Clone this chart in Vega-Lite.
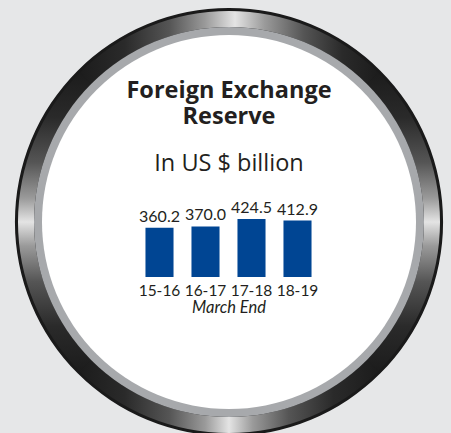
{
  "$schema": "https://vega.github.io/schema/vega-lite/v6.json",
  "width": 451,
  "height": 433,
  "autosize": {"type": "none"},
  "padding": {"left": 3.5, "top": 5.5, "right": 0, "bottom": 0},
  "background": "#e6e7e8",
  "view": {"stroke": null},
  "title": {
    "text": ["Foreign Exchange", "Reserve"],
    "subtitle": "In US $ billion",
    "anchor": "middle",
    "frame": "group",
    "offset": -170,
    "font": "Open Sans",
    "fontSize": 23.5,
    "fontWeight": "bold",
    "color": "#231f20",
    "lineHeight": 26.5,
    "subtitleFont": "Open Sans",
    "subtitleFontSize": 23.5,
    "subtitleColor": "#231f20",
    "subtitlePadding": 23.5
  },
  "layer": [
    {
      "data": {"values": [{}]},
      "mark": {"type": "arc", "radius": 214, "radius2": 0, "theta": 0, "theta2": 6.2832, "fill": "#1a1a1a"},
      "encoding": {}
    },
    {
      "data": {"values": [{}]},
      "mark": {"type": "arc", "radius": 211, "radius2": 195, "theta": -0.7854, "theta2": 0.7854,
        "fill": {"gradient": "linear", "x1": 0, "y1": 0, "x2": 1, "y2": 0, "stops": [
          {"offset": 0, "color": "#1c1c1c"}, {"offset": 0.15, "color": "#2a2a2a"}, {"offset": 0.3, "color": "#555555"},
          {"offset": 0.42, "color": "#9a9a9a"}, {"offset": 0.52, "color": "#e4e4e4"}, {"offset": 0.62, "color": "#9a9a9a"},
          {"offset": 0.75, "color": "#555555"}, {"offset": 0.88, "color": "#2a2a2a"}, {"offset": 1, "color": "#1c1c1c"}]}},
      "encoding": {}
    },
    {
      "data": {"values": [{}]},
      "mark": {"type": "arc", "radius": 211, "radius2": 195, "theta": 0.7854, "theta2": 2.3562,
        "fill": {"gradient": "linear", "x1": 0, "y1": 0, "x2": 0, "y2": 1, "stops": [
          {"offset": 0, "color": "#1c1c1c"}, {"offset": 0.15, "color": "#2a2a2a"}, {"offset": 0.3, "color": "#555555"},
          {"offset": 0.42, "color": "#9a9a9a"}, {"offset": 0.5, "color": "#e4e4e4"}, {"offset": 0.58, "color": "#9a9a9a"},
          {"offset": 0.7, "color": "#555555"}, {"offset": 0.85, "color": "#2a2a2a"}, {"offset": 1, "color": "#1c1c1c"}]}},
      "encoding": {}
    },
    {
      "data": {"values": [{}]},
      "mark": {"type": "arc", "radius": 211, "radius2": 195, "theta": 2.3562, "theta2": 3.927,
        "fill": {"gradient": "linear", "x1": 0, "y1": 0, "x2": 1, "y2": 0, "stops": [
          {"offset": 0, "color": "#1c1c1c"}, {"offset": 0.15, "color": "#2a2a2a"}, {"offset": 0.3, "color": "#555555"},
          {"offset": 0.42, "color": "#9a9a9a"}, {"offset": 0.5, "color": "#e4e4e4"}, {"offset": 0.58, "color": "#9a9a9a"},
          {"offset": 0.7, "color": "#555555"}, {"offset": 0.85, "color": "#2a2a2a"}, {"offset": 1, "color": "#1c1c1c"}]}},
      "encoding": {}
    },
    {
      "data": {"values": [{}]},
      "mark": {"type": "arc", "radius": 211, "radius2": 195, "theta": 3.927, "theta2": 5.4978,
        "fill": {"gradient": "linear", "x1": 0, "y1": 0, "x2": 0, "y2": 1, "stops": [
          {"offset": 0, "color": "#1c1c1c"}, {"offset": 0.15, "color": "#2a2a2a"}, {"offset": 0.3, "color": "#555555"},
          {"offset": 0.42, "color": "#9a9a9a"}, {"offset": 0.5, "color": "#e4e4e4"}, {"offset": 0.58, "color": "#9a9a9a"},
          {"offset": 0.7, "color": "#555555"}, {"offset": 0.85, "color": "#2a2a2a"}, {"offset": 1, "color": "#1c1c1c"}]}},
      "encoding": {}
    },
    {
      "data": {"values": [{}]},
      "mark": {"type": "arc", "radius": 195, "radius2": 0, "theta": 0, "theta2": 6.2832, "fill": "#a7a9ac"},
      "encoding": {}
    },
    {
      "data": {"values": [{}]},
      "mark": {"type": "arc", "radius": 187, "radius2": 0, "theta": 0, "theta2": 6.2832, "fill": "#ffffff"},
      "encoding": {}
    },
    {
      "data": {"values": [
        {"year": "15-16", "reserve": 360.2},
        {"year": "16-17", "reserve": 370.0},
        {"year": "17-18", "reserve": 424.5},
        {"year": "18-19", "reserve": 412.9}
      ]},
      "layer": [
        {
          "mark": {"type": "bar", "color": "#004593"},
          "encoding": {
            "x": {"field": "year", "type": "nominal", "sort": null,
              "scale": {"range": [133, 317], "paddingInner": 0.39, "paddingOuter": 0.195},
              "axis": {"orient": "bottom", "offset": -161.5, "zindex": 2, "domain": false, "ticks": false, "labelAngle": 0,
                "labelFont": "Lato", "labelFontSize": 15.5, "labelColor": "#231f20", "labelPadding": 6.5,
                "title": "March End", "titleFont": "Lato", "titleFontSize": 16.5, "titleFontStyle": "italic",
                "titleFontWeight": "normal", "titleColor": "#231f20", "titlePadding": 0}},
            "y": {"field": "reserve", "type": "quantitative",
              "scale": {"domain": [0, 424.5], "range": [271.5, 213.5], "nice": false, "zero": true},
              "axis": null}
          }
        },
        {
          "mark": {"type": "text", "font": "Lato", "fontSize": 16, "color": "#231f20", "baseline": "alphabetic", "dy": -6},
          "encoding": {
            "x": {"field": "year", "type": "nominal", "sort": null},
            "y": {"field": "reserve", "type": "quantitative"},
            "text": {"field": "reserve", "type": "quantitative", "format": ".1f"}
          }
        }
      ]
    }
  ]
}
